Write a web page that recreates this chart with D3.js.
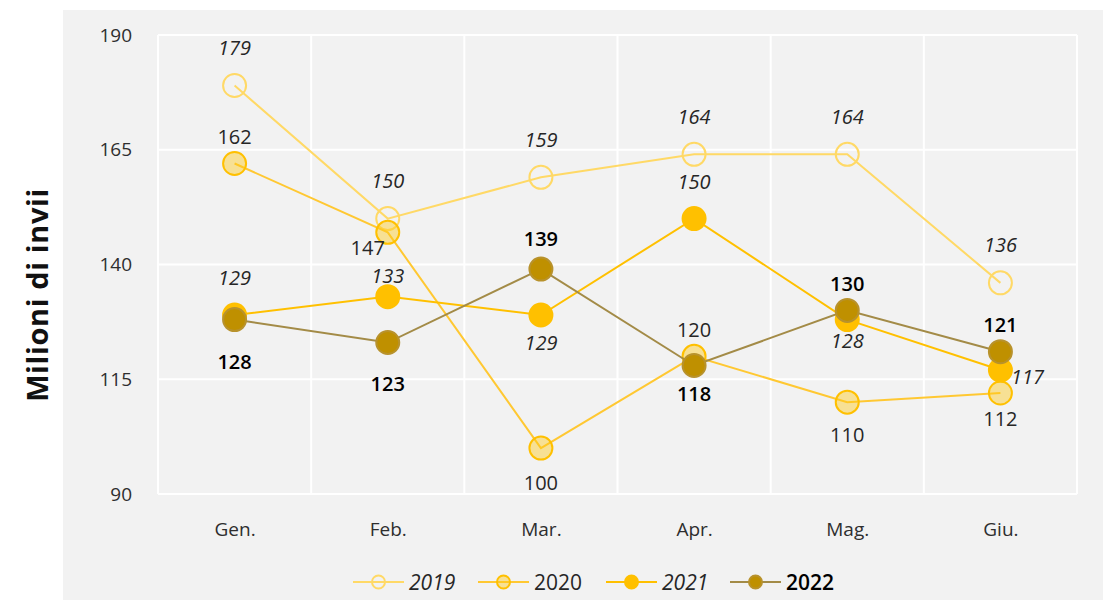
<!DOCTYPE html>
<html>
<head>
<meta charset="utf-8">
<script src="https://cdn.jsdelivr.net/npm/d3@7"></script>
<style>
  html, body { margin: 0; padding: 0; background: #ffffff; }
  svg { display: block; font-family: "Open Sans", "Noto Sans", sans-serif; }
</style>
</head>
<body>
<svg id="chart" width="1109" height="600"></svg>
<script>
// Monthly volumes (millions of items sent), January to June
const months = ["Gen.", "Feb.", "Mar.", "Apr.", "Mag.", "Giu."];
const values2019 = [179, 150, 159, 164, 164, 136];
const values2020 = [162, 147, 100, 120, 110, 112];
const values2021 = [129, 133, 129, 150, 128, 117];
const values2022 = [128, 123, 139, 118, 130, 121];
const yTicks = [90, 115, 140, 165, 190];
const seriesNames = ["2019", "2020", "2021", "2022"];

// Label placement (text centre relative to its point), one entry per month
const labelOffsets2019 = [[0,-38],[0,-38],[0,-38],[0,-38],[0,-38],[0,-38]];
const labelOffsets2020 = [[0,-27],[-20,15],[0,34],[0,-27],[0,32],[0,25]];
const labelOffsets2021 = [[0,-37],[0,-21],[0,28],[0,-37],[0,21],[27,6]];
const labelOffsets2022 = [[0,42],[0,41],[0,-31],[0,28],[0,-27],[0,-27]];

const series = [
  { name: seriesNames[0], values: values2019, offsets: labelOffsets2019,
    line: "#ffd966", stroke: "#ffd966", fill: "none", italic: true, weight: 400, r: 11.5 },
  { name: seriesNames[1], values: values2020, offsets: labelOffsets2020,
    line: "#ffc832", stroke: "#ffc000", fill: "rgba(255,200,20,0.42)", italic: false, weight: 400, r: 11.5 },
  { name: seriesNames[2], values: values2021, offsets: labelOffsets2021,
    line: "#ffc000", stroke: "#ffc000", fill: "#ffc000", italic: true, weight: 400, r: 11.5 },
  { name: seriesNames[3], values: values2022, offsets: labelOffsets2022,
    line: "#a38b47", stroke: "#b8922c", fill: "#bf9000", italic: false, weight: 600, r: 11.5 }
];

const svg = d3.select("#chart");

// panel background
svg.append("rect")
  .attr("x", 63).attr("y", 10)
  .attr("width", 1040).attr("height", 590)
  .attr("fill", "#f2f2f2");

const plot = { left: 158, right: 1077, top: 35, bottom: 494 };

const x = d3.scalePoint()
  .domain(months)
  .range([plot.left, plot.right])
  .padding(0.5);

const y = d3.scaleLinear()
  .domain([90, 190])
  .range([plot.bottom, plot.top]);

// horizontal gridlines
svg.append("g")
  .selectAll("line")
  .data(yTicks)
  .join("line")
  .attr("x1", plot.left).attr("x2", plot.right)
  .attr("y1", d => y(d)).attr("y2", d => y(d))
  .attr("stroke", "#ffffff").attr("stroke-width", 2);

// vertical gridlines at month boundaries
const step = x.step();
const boundaries = d3.range(months.length + 1).map(i => plot.left + i * step);
svg.append("g")
  .selectAll("line")
  .data(boundaries)
  .join("line")
  .attr("x1", d => d).attr("x2", d => d)
  .attr("y1", plot.top).attr("y2", plot.bottom)
  .attr("stroke", "#ffffff").attr("stroke-width", 2);

// y axis labels
const yAxis = d3.axisLeft(y).tickValues(yTicks).tickSize(0).tickPadding(0);
const gy = svg.append("g")
  .attr("transform", `translate(132,0)`)
  .call(yAxis);
gy.select(".domain").remove();
gy.selectAll("text")
  .attr("font-size", 19)
  .attr("font-family", "'Open Sans', 'Noto Sans', sans-serif")
  .attr("fill", "#2e2e2e");

// x axis labels
const xAxis = d3.axisBottom(x).tickSize(0).tickPadding(0);
const gx = svg.append("g")
  .attr("transform", `translate(0,${plot.bottom + 28})`)
  .call(xAxis);
gx.select(".domain").remove();
gx.selectAll("text")
  .attr("font-size", 19)
  .attr("font-family", "'Open Sans', 'Noto Sans', sans-serif")
  .attr("fill", "#2e2e2e");

// y axis title
svg.append("text")
  .attr("transform", "translate(36,295) rotate(-90)")
  .attr("text-anchor", "middle")
  .attr("dominant-baseline", "central")
  .attr("font-size", 29)
  .attr("font-weight", 700)
  .attr("letter-spacing", 0.6)
  .attr("fill", "#111111")
  .text("Milioni di invii");

const line = d3.line()
  .x((d, i) => x(months[i]))
  .y(d => y(d));

series.forEach(s => {
  const g = svg.append("g");
  g.append("path")
    .datum(s.values)
    .attr("d", line)
    .attr("fill", "none")
    .attr("stroke", s.line)
    .attr("stroke-width", 2);
  g.selectAll("circle")
    .data(s.values)
    .join("circle")
    .attr("cx", (d, i) => x(months[i]))
    .attr("cy", d => y(d))
    .attr("r", s.r)
    .attr("fill", s.fill)
    .attr("stroke", s.stroke)
    .attr("stroke-width", 2);
});

// data labels drawn above all series
series.forEach(s => {
  svg.append("g")
    .selectAll("text")
    .data(s.values)
    .join("text")
    .attr("x", (d, i) => x(months[i]) + s.offsets[i][0])
    .attr("y", (d, i) => y(d) + s.offsets[i][1])
    .attr("text-anchor", "middle")
    .attr("dominant-baseline", "central")
    .attr("font-size", 20)
    .attr("font-style", s.italic ? "italic" : "normal")
    .attr("font-weight", s.weight)
    .attr("fill", s.weight > 500 ? "#000000" : "#262626")
    .text(d => d);
});

// legend
const legendItems = [
  { s: series[0], x0: 353 },
  { s: series[1], x0: 478 },
  { s: series[2], x0: 606 },
  { s: series[3], x0: 730 }
];
const ly = 582;
const lg = svg.append("g");
legendItems.forEach(item => {
  const s = item.s;
  lg.append("line")
    .attr("x1", item.x0).attr("x2", item.x0 + 51)
    .attr("y1", ly).attr("y2", ly)
    .attr("stroke", s.line).attr("stroke-width", 2);
  lg.append("circle")
    .attr("cx", item.x0 + 25.5).attr("cy", ly)
    .attr("r", 6.5)
    .attr("fill", s.fill).attr("stroke", s.stroke).attr("stroke-width", 2);
  lg.append("text")
    .attr("x", item.x0 + 56).attr("y", ly)
    .attr("dominant-baseline", "central")
    .attr("font-size", 21)
    .attr("font-style", s.italic ? "italic" : "normal")
    .attr("font-weight", s.weight)
    .attr("fill", s.weight > 500 ? "#000000" : "#262626")
    .text(s.name);
});
</script>
</body>
</html>
